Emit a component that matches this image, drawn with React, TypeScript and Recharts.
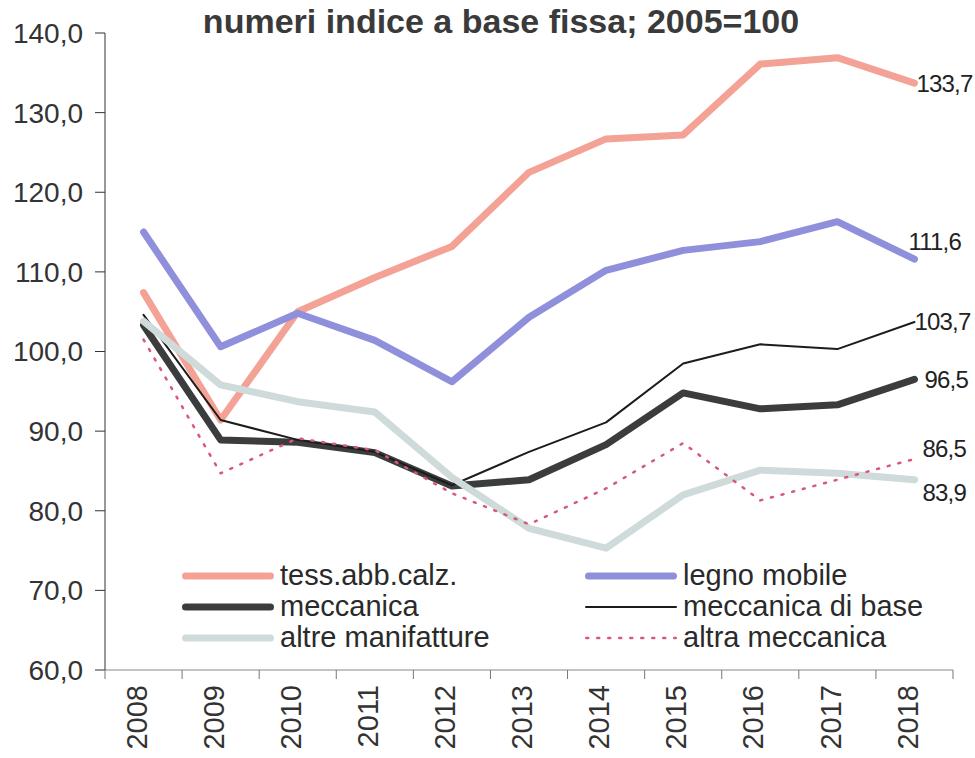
import { LineChart, Line, XAxis, YAxis, Legend, LabelList } from "recharts";

const years = ["2008", "2009", "2010", "2011", "2012", "2013", "2014", "2015", "2016", "2017", "2018"];
const tessAbbCalz = [107.4, 91.4, 105.0, 109.3, 113.2, 122.5, 126.7, 127.2, 136.1, 136.9, 133.7];
const legnoMobile = [115.0, 100.6, 104.8, 101.4, 96.2, 104.3, 110.2, 112.7, 113.8, 116.3, 111.6];
const meccanica = [103.3, 88.9, 88.6, 87.3, 83.1, 83.9, 88.3, 94.8, 92.8, 93.3, 96.5];
const meccanicaDiBase = [104.6, 91.4, 88.9, 87.4, 83.2, 87.4, 91.1, 98.5, 100.9, 100.3, 103.7];
const altreManifatture = [103.8, 95.8, 93.7, 92.4, 84.2, 77.8, 75.3, 82.0, 85.1, 84.7, 83.9];
const altraMeccanica = [101.5, 84.7, 89.1, 87.6, 82.2, 78.3, 82.8, 88.5, 81.3, 83.9, 86.5];
const yTicks = [60, 70, 80, 90, 100, 110, 120, 130, 140];

const title = "numeri indice a base fissa; 2005=100";

const W = 975;
const H = 758;
const margin = { top: 33, right: 22, bottom: 8, left: 0 };
const Y_AXIS_W = 105;
const X_AXIS_H = 80;
const step = (W - margin.left - margin.right - Y_AXIS_W) / years.length;
const FONT = "'Liberation Sans', Arial, sans-serif";

// legend order: two columns, filled row by row
const series = [
	{ key: "tess", name: "tess.abb.calz.", color: "#F4A296", width: 7, dash: undefined, dx: 2, dy: 0 },
	{ key: "legno", name: "legno mobile", color: "#8F8FDC", width: 7, dash: undefined, dx: -6, dy: -18 },
	{ key: "mecc", name: "meccanica", color: "#3A3C3E", width: 7, dash: undefined, dx: 10, dy: 0 },
	{ key: "meccBase", name: "meccanica di base", color: "#1C1C1C", width: 2, dash: undefined, dx: 0, dy: 0 },
	{ key: "altre", name: "altre manifatture", color: "#CFDADA", width: 7, dash: undefined, dx: 8, dy: 13 },
	{ key: "altraMecc", name: "altra meccanica", color: "#D8587C", width: 2.5, dash: "2 9", dx: 8, dy: -10 },
];

const data = years.map((year, i) => ({
	year,
	tess: tessAbbCalz[i],
	legno: legnoMobile[i],
	mecc: meccanica[i],
	meccBase: meccanicaDiBase[i],
	altre: altreManifatture[i],
	altraMecc: altraMeccanica[i],
}));

const fmt = (v: number) => v.toFixed(1).replace(".", ",");

function YearTick(props: any) {
	const { x, y, payload, index } = props;
	const left = x - step / 2;
	return (
		<g>
			<line x1={left} y1={y} x2={left} y2={y + 9} stroke="#777" strokeWidth={1} />
			{index === years.length - 1 && (
				<line x1={x + step / 2} y1={y} x2={x + step / 2} y2={y + 9} stroke="#777" strokeWidth={1} />
			)}
			<text
				x={x - 7}
				y={y + 15}
				transform={`rotate(-90, ${x - 7}, ${y + 15})`}
				textAnchor="end"
				dy="0.35em"
				fontSize={29}
				fontFamily={FONT}
				fill="#333"
			>
				{payload.value}
			</text>
		</g>
	);
}

function EndLabel(s: (typeof series)[number]) {
	return (props: any) => {
		const { x, y, index, value } = props;
		if (index !== years.length - 1) return null;
		return (
			<text
				x={x + s.dx}
				y={y + s.dy}
				dy="0.35em"
				fontSize={24}
				letterSpacing={-0.8}
				fontFamily={FONT}
				fill="#222"
			>
				{fmt(Number(value))}
			</text>
		);
	};
}

function LegendBox() {
	return (
		<div
			style={{
				display: "grid",
				gridTemplateColumns: "403px 380px",
				rowGap: 0,
				fontFamily: FONT,
				fontSize: 29,
				color: "#2a2a2a",
			}}
		>
			{series.map((s) => (
				<div key={s.key} style={{ display: "flex", alignItems: "center", height: 31 }}>
					<svg width={92} height={12} style={{ marginRight: 6 }}>
						<line
							x1={s.width / 2}
							y1={6}
							x2={92 - s.width / 2}
							y2={6}
							stroke={s.color}
							strokeWidth={s.width}
							strokeDasharray={s.dash}
							strokeLinecap="round"
						/>
					</svg>
					<span>{s.name}</span>
				</div>
			))}
		</div>
	);
}

export default function App() {
	return (
		<div style={{ position: "absolute", left: 0, top: 0, width: W, height: H, background: "#fff" }}>
			<div
				style={{
					position: "absolute",
					top: 4,
					left: 0,
					width: 1002,
					textAlign: "center",
					fontFamily: FONT,
					fontWeight: "bold",
					fontSize: 34,
					lineHeight: "34px",
					color: "#3a3a3a",
				}}
			>
				{title}
			</div>
			<LineChart width={W} height={H} data={data} margin={margin}>
				<XAxis
					dataKey="year"
					height={X_AXIS_H}
					padding={{ left: step / 2, right: step / 2 }}
					axisLine={{ stroke: "#888" }}
					tickLine={false}
					tickSize={0}
					tickMargin={0}
					interval={0}
					tick={<YearTick />}
				/>
				<YAxis
					domain={[60, 140]}
					ticks={yTicks}
					width={Y_AXIS_W}
					tickFormatter={fmt}
					axisLine={{ stroke: "#333" }}
					tickLine={{ stroke: "#333" }}
					tickSize={10}
					tickMargin={12}
					tick={{ fontSize: 28, fill: "#333", fontFamily: FONT }}
					allowDataOverflow
				/>
				<Legend
					layout="horizontal"
					verticalAlign="middle"
					align="center"
					wrapperStyle={{ top: 560, left: 182, width: 790 }}
					content={() => <LegendBox />}
				/>
				{series.map((s) => (
					<Line
						key={s.key}
						dataKey={s.key}
						name={s.name}
						type="linear"
						stroke={s.color}
						strokeWidth={s.width}
						strokeDasharray={s.dash}
						strokeLinecap="round"
						strokeLinejoin="round"
						dot={false}
						activeDot={false}
						isAnimationActive={false}
					>
						<LabelList dataKey={s.key} content={EndLabel(s)} />
					</Line>
				))}
			</LineChart>
		</div>
	);
}
